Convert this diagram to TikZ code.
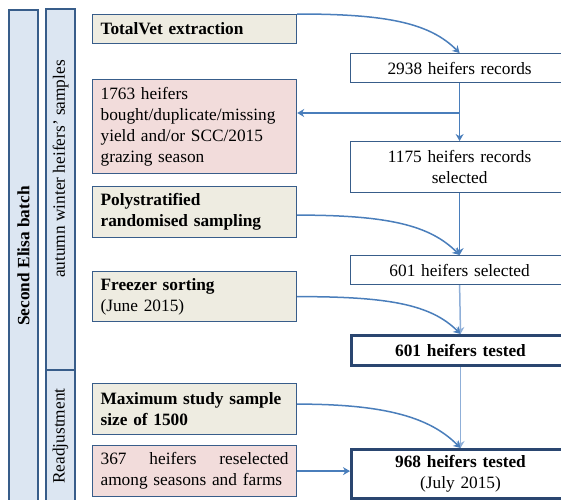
\documentclass[tikz,border=0pt]{standalone}
\usepackage{fontspec}
\setmainfont{Liberation Serif}
\usetikzlibrary{arrows.meta}
\definecolor{beige}{HTML}{EEECE1}
\definecolor{pinkf}{HTML}{F2DCDB}
\definecolor{barf}{HTML}{DCE6F2}
\definecolor{bord}{HTML}{385D8A}
\definecolor{thickb}{HTML}{2A4670}
\definecolor{conn}{HTML}{4A7EBB}
\definecolor{connl}{HTML}{8FAFD8}
\begin{document}
\begin{tikzpicture}[x=1pt,y=1pt,
  every node/.style={font=\fontsize{17.3}{21}\selectfont},
  lbox/.style={draw=bord, line width=1.2pt, anchor=north west, minimum width=204pt,
    text width=188pt, inner xsep=8pt, inner ysep=0pt, align=left},
  rbox/.style={draw=bord, line width=1.2pt, fill=white, anchor=north west, minimum width=218pt,
    text width=200pt, inner xsep=9pt, inner ysep=0pt, align=center},
  tbox/.style={rbox, draw=thickb, line width=3pt},
  barbox/.style={draw=bord, line width=1.2pt, fill=barf},
  conn/.style={draw=conn, line width=1.5pt, -{Stealth[length=7pt,width=8pt]}},
  connlight/.style={conn, draw=connl}
]
\useasboundingbox (0,0) rectangle (561,-499);
% side bars
\draw[barbox] (9,-10) rectangle (38,-506);
\draw[barbox] (46,-9) rectangle (75,-370);
\draw[barbox] (46,-370) rectangle (75,-506);
\node[rotate=90] (lbl1) at (23.5,-256) {\bfseries Second Elisa batch};
\node[rotate=90] (lbl2) at (60.5,-169) {autumn winter heifers’ samples};
\node[rotate=90] (lbl3) at (60.5,-436) {Readjustment};
% left boxes
\node[lbox, fill=beige, minimum height=29pt] (tv) at (92,-14) {\bfseries TotalVet extraction};
\node[lbox, fill=pinkf, minimum height=94pt] (ex) at (92,-79) {1763 heifers\\bought/duplicate/missing\\yield and/or SCC/2015\\grazing season};
\node[lbox, fill=beige, minimum height=51pt] (poly) at (92,-186) {\textbf{Polystratified}\\\textbf{randomised sampling}};
\node[lbox, fill=beige, minimum height=50pt] (frz) at (92,-271) {\textbf{Freezer sorting}\\(June 2015)};
\node[lbox, fill=beige, minimum height=51pt] (mx) at (92,-383) {\textbf{Maximum study sample}\\\textbf{size of 1500}};
\node[lbox, fill=pinkf, minimum height=51pt] (rs) at (92,-445) {\makebox[188pt][l]{367\hfill heifers\hfill reselected}\\among seasons and farms};
% right boxes
\node[rbox, minimum height=29pt] (r1) at (350,-53) {2938 heifers records};
\node[rbox, minimum height=51pt] (r2) at (350,-141) {1175 heifers records\\selected};
\node[rbox, minimum height=29pt] (r3) at (350,-255) {601 heifers selected};
\node[tbox, minimum height=30pt] (r4) at (350,-334) {\bfseries 601 heifers tested};
\node[tbox, minimum height=49pt] (r5) at (350,-448) {\textbf{968 heifers tested}\\(July 2015)};
% connectors
\draw[conn] (tv.north east) .. controls +(90,0) and +(-30,30) .. (r1.north);
\draw[conn] (r1.south) -- (r2.north);
\coordinate (br) at (459,-113);
\draw[conn] (br) -- (br -| ex.east);
\draw[conn] (r2.south) -- (r3.north);
\draw[conn] ([yshift=-3pt]poly.east) .. controls +(90,0) and +(-30,30) .. (r3.north);
\draw[connlight] (r3.south) -- (r4.north);
\draw[conn] (frz.east) .. controls +(90,0) and +(-30,30) .. (r4.north);
\draw[connlight] (r4.south) -- (r5.north);
\draw[conn] ([yshift=5pt]mx.east) .. controls +(90,0) and +(-30,30) .. (r5.north);
\draw[conn] (rs.east) -- (rs.east -| r5.west);
\end{tikzpicture}
\end{document}
